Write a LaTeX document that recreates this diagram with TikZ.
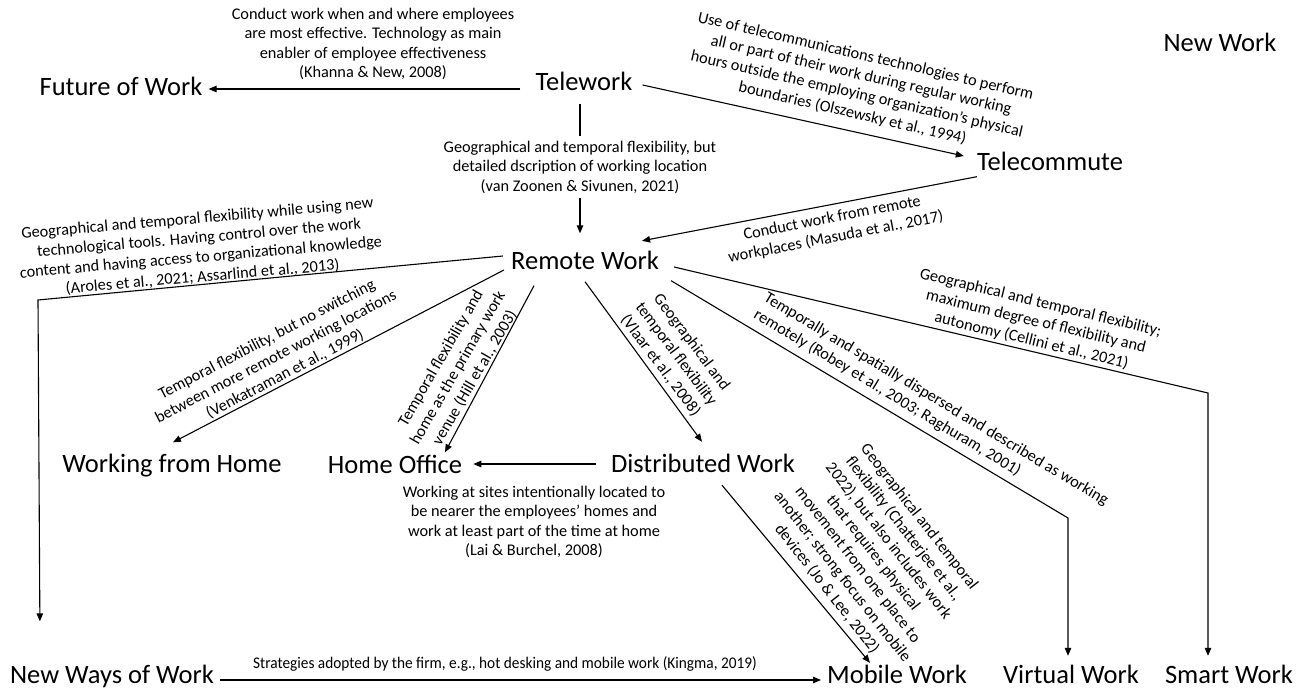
\documentclass[tikz,border=0pt]{standalone}
\usepackage{fontspec}
\setmainfont{Carlito}
\usetikzlibrary{arrows.meta}
\begin{document}
\begin{tikzpicture}[x=1pt,y=-1pt,
  big/.style={font=\fontsize{26.5}{30}\selectfont, inner sep=0pt, text height=19pt, text depth=6pt},
  lab/.style={font=\fontsize{16.3}{19.5}\selectfont, align=center, inner sep=1pt},
  ln/.style={line width=1.1pt},
  arr/.style={line width=1.1pt, -{Triangle[length=8pt,width=6.5pt]}}]
\useasboundingbox (0,0) rectangle (1304,693);
% main nodes
\node[big] (tele) at (584,84) {Telework};
\node[big] (fow) at (121,89) {Future of Work};
\node[big] (tc) at (1050,164) {Telecommute};
\node[big] (nw) at (1220,45) {New Work};
\node[big] (rw) at (585,263) {Remote Work};
\node[big] (wfh) at (172,466) {Working from Home};
\node[big] (ho) at (395,467) {Home Office};
\node[big] (dw) at (703,466) {Distributed Work};
\node[big] (nww) at (112,677) {New Ways of Work};
\node[big] (mw) at (897,677) {Mobile Work};
\node[big] (vw) at (1071,677) {Virtual Work};
\node[big] (sw) at (1229,677) {Smart Work};
% labels
\node[lab] (l1) at (373,44) {Conduct work when and where employees\\are most effective. Technology as main\\enabler of employee effectiveness\\(Khanna \& New, 2008)};
\node[lab, rotate=-13] (l2) at (859,85) {Use of telecommunications technologies to perform\\all or part of their work during regular working\\hours outside the employing organization’s physical\\boundaries (Olszewsky et al., 1994)};
\node[lab] (l3) at (580,167) {Geographical and temporal flexibility, but\\detailed dscription of working location\\(van Zoonen \& Sivunen, 2021)};
\node[lab, rotate=11] (l4) at (834,228) {Conduct work from remote\\workplaces (Masuda et al., 2017)};
\node[lab, rotate=5] (l5) at (200,248) {Geographical and temporal flexibility while using new\\technological tools. Having control over the work\\content and having access to organizational knowledge\\(Aroles et al., 2021; Assarlind et al., 2013)};
\node[lab, rotate=27.5] (l6) at (276,357) {Temporal flexibility, but no switching\\between more remote working locations\\(Venkatraman et al., 1999)};
\node[lab, rotate=60] (l7) at (458,368) {Temporal flexibility and\\home as the primary work\\venue (Hill et al., 2003)};
\node[lab, rotate=-53] (l8) at (676,354) {Geographical and\\temporal flexibility\\(Vlaar et al., 2008)};
\node[lab, rotate=-13.5] (l9) at (1036,322) {Geographical and temporal flexibility;\\maximum degree of flexibility and\\autonomy (Cellini et al., 2021)};
\node[lab, rotate=-31, align=left] (l10) at (931,408) {Temporally and spatially dispersed and described as working\\remotely (Robey et al., 2003; Raghuram, 2001)};
\node[lab, rotate=-52] (l11) at (873,553) {Geographical and temporal\\flexibility (Chatterjee et al.,\\2022), but also includes work\\that requires physical\\movement from one place to\\another; strong focus on mobile\\devices (Jo \& Lee, 2022)};
\node[lab] (l12) at (534,522) {Working at sites intentionally located to\\be nearer the employees’ homes and\\work at least part of the time at home\\(Lai \& Burchel, 2008)};
\node[lab] (l13) at (505,664) {\scalebox{0.94}[1]{Strategies adopted by the firm, e.g., hot desking and mobile work (Kingma, 2019)}};
% bend points
\coordinate (c5) at (38,300);
\coordinate (c10) at (1068,518);
\coordinate (c11) at (1208,393);
% connectors
\draw[arr] ([shift={(-15,5)}]tele.west) -- ([shift={(6,0)}]fow.east);
\draw[arr] ([shift={(10,1)}]tele.east) -- ([shift={(-13,-8)}]tc.west);
\draw[ln] ([shift={(-4,7)}]tele.south) -- ([shift={(0,-4)}]l3.north);
\draw[arr] ([shift={(0,4)}]l3.south) -- ([shift={(-5,-17)}]rw.north);
\draw[arr] (tc.south west) -- ([shift={(-17,-9.5)}]rw.north east);
\draw[arr] ([shift={(-8,-7)}]rw.west) -- (c5) -- ([shift={(30,-43)}]nww.north west);
\draw[arr] ([shift={(-7,7)}]rw.west) -- ([shift={(1,-11)}]wfh.north);
\draw[arr] ([shift={(-51,10)}]rw.south) -- ([shift={(50,-2)}]ho.north);
\draw[arr] ([shift={(0,6)}]rw.south) -- ([shift={(-1,-11.5)}]dw.north);
\draw[arr] ([shift={(-15,-2)}]dw.west) -- ([shift={(11,-3)}]ho.east);
\draw[arr] ([shift={(12,5)}]rw.south east) -- (c10) -- ([shift={(-3,-8.5)}]vw.north);
\draw[arr] ([shift={(15,4)}]rw.east) -- (c11) -- ([shift={(-21,-8.5)}]sw.north);
\draw[arr] ([shift={(19,6.5)}]dw.south) -- ([shift={(-27,-1.5)}]mw.north);
\draw[arr] ([shift={(6,3)}]nww.east) -- ([shift={(-6,3)}]mw.west);
\end{tikzpicture}
\end{document}
